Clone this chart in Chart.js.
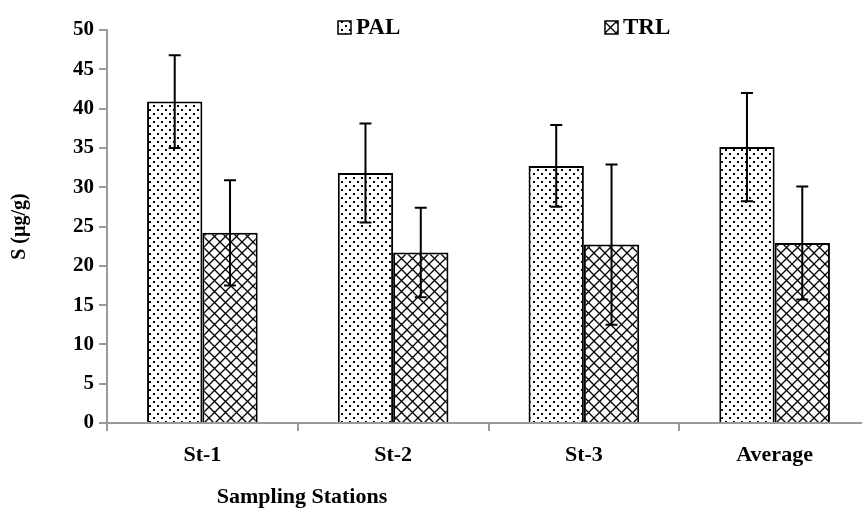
<!DOCTYPE html>
<html>
<head>
<meta charset="utf-8">
<script src="https://cdn.jsdelivr.net/npm/chart.js@4.4.1/dist/chart.umd.min.js"></script>
<style>
  html, body { margin: 0; padding: 0; background: #fff; overflow: hidden; }
  #wrap { width: 862px; height: 513px; overflow: hidden; }
  #chart { display: block; }
</style>
</head>
<body>
<div id="wrap"><canvas id="chart" width="880" height="513"></canvas></div>
<script>
// data
const stations = ['St-1', 'St-2', 'St-3', 'Average'];
const palValues = [40.9, 31.8, 32.7, 35.1];
const palErrors = [5.9, 6.3, 5.2, 6.9];
const trlValues = [24.2, 21.7, 22.7, 22.9];
const trlErrors = [6.7, 5.7, 10.2, 7.2];
const yMin = 0, yMax = 50, yStep = 5;

const FONT = '"Liberation Serif", "Times New Roman", serif';
const AXIS_GREY = '#9a9a9a';

// fill patterns like the old excel ones
function dotPattern() {
    const c = document.createElement('canvas');
    c.width = 8; c.height = 8;
    const g = c.getContext('2d');
    g.fillStyle = '#fff';
    g.fillRect(0, 0, 8, 8);
    g.fillStyle = '#000';
    g.fillRect(1, 1, 2, 2);
    g.fillRect(5, 5, 2, 2);
    return g.createPattern(c, 'repeat');
}

function crossPattern() {
    const c = document.createElement('canvas');
    c.width = 11; c.height = 11;
    const g = c.getContext('2d');
    g.fillStyle = '#fff';
    g.fillRect(0, 0, 11, 11);
    g.strokeStyle = '#000';
    g.lineWidth = 1.3;
    g.beginPath();
    g.moveTo(0, 0); g.lineTo(11, 11);
    g.moveTo(11, 0); g.lineTo(0, 11);
    g.stroke();
    return g.createPattern(c, 'repeat');
}

const palFill = dotPattern();
const trlFill = crossPattern();

// error bars drawn with the y scale
const errorBars = {
    id: 'errorBars',
    afterDatasetsDraw(chart) {
        const ctx = chart.ctx;
        const y = chart.scales.y;
        ctx.save();
        ctx.strokeStyle = '#000';
        ctx.lineWidth = 2;
        chart.data.datasets.forEach((ds, i) => {
            const meta = chart.getDatasetMeta(i);
            meta.data.forEach((bar, j) => {
                const v = ds.data[j], e = ds.errors[j];
                const top = y.getPixelForValue(v + e);
                const bot = y.getPixelForValue(v - e);
                ctx.beginPath();
                ctx.moveTo(bar.x, top); ctx.lineTo(bar.x, bot);
                ctx.moveTo(bar.x - 6, top); ctx.lineTo(bar.x + 6, top);
                ctx.moveTo(bar.x - 6, bot); ctx.lineTo(bar.x + 6, bot);
                ctx.stroke();
            });
        });
        ctx.restore();
    }
};

// legend and x title placed like the original
const extras = {
    id: 'extras',
    afterDraw(chart) {
        const ctx = chart.ctx;
        ctx.save();
        ctx.font = 'bold 23px ' + FONT;
        ctx.textBaseline = 'middle';
        const items = [
            { x: 338, fill: palFill, text: chart.data.datasets[0].label },
            { x: 605, fill: trlFill, text: chart.data.datasets[1].label }
        ];
        items.forEach(it => {
            ctx.fillStyle = it.fill;
            ctx.fillRect(it.x, 21, 13, 13);
            ctx.strokeStyle = '#000';
            ctx.lineWidth = 1.5;
            ctx.strokeRect(it.x, 21, 13, 13);
            ctx.fillStyle = '#000';
            ctx.textAlign = 'left';
            ctx.fillText(it.text, it.x + 18, 28);
        });
        ctx.font = 'bold 22px ' + FONT;
        ctx.textAlign = 'center';
        ctx.fillText('Sampling Stations', 302, 497);
        ctx.restore();
    }
};

new Chart(document.getElementById('chart').getContext('2d'), {
    type: 'bar',
    data: {
        labels: stations,
        datasets: [{
            label: 'PAL',
            data: palValues,
            errors: palErrors,
            backgroundColor: palFill,
            borderColor: '#000',
            borderWidth: 2
        }, {
            label: 'TRL',
            data: trlValues,
            errors: trlErrors,
            backgroundColor: trlFill,
            borderColor: '#000',
            borderWidth: 2
        }]
    },
    options: {
        responsive: false,
        animation: false,
        layout: { padding: { top: 30, right: 10, left: 0, bottom: 0 } },
        datasets: {
            bar: { barPercentage: 1, categoryPercentage: 0.58 }
        },
        plugins: {
            legend: { display: false },
            tooltip: { enabled: false }
        },
        scales: {
            x: {
                afterFit: s => { s.height = 90; },
                grid: { display: true, drawOnChartArea: false, tickLength: 8, color: AXIS_GREY, lineWidth: 2 },
                border: { color: AXIS_GREY, width: 2 },
                ticks: { color: '#000', padding: 11, font: { family: FONT, size: 22, weight: 'bold' } }
            },
            y: {
                min: yMin,
                max: yMax,
                afterFit: s => { s.width = 107; },
                grid: { display: true, drawOnChartArea: false, tickLength: 8, color: AXIS_GREY, lineWidth: 2 },
                border: { color: AXIS_GREY, width: 2 },
                ticks: { stepSize: yStep, color: '#000', padding: 5, font: { family: FONT, size: 21, weight: 'bold' } },
                title: {
                    display: true,
                    text: 'S (µg/g)',
                    color: '#000',
                    padding: { top: 8, bottom: 0 },
                    font: { family: FONT, size: 20, weight: 'bold' }
                }
            }
        }
    },
    plugins: [errorBars, extras]
});
</script>
</body>
</html>
